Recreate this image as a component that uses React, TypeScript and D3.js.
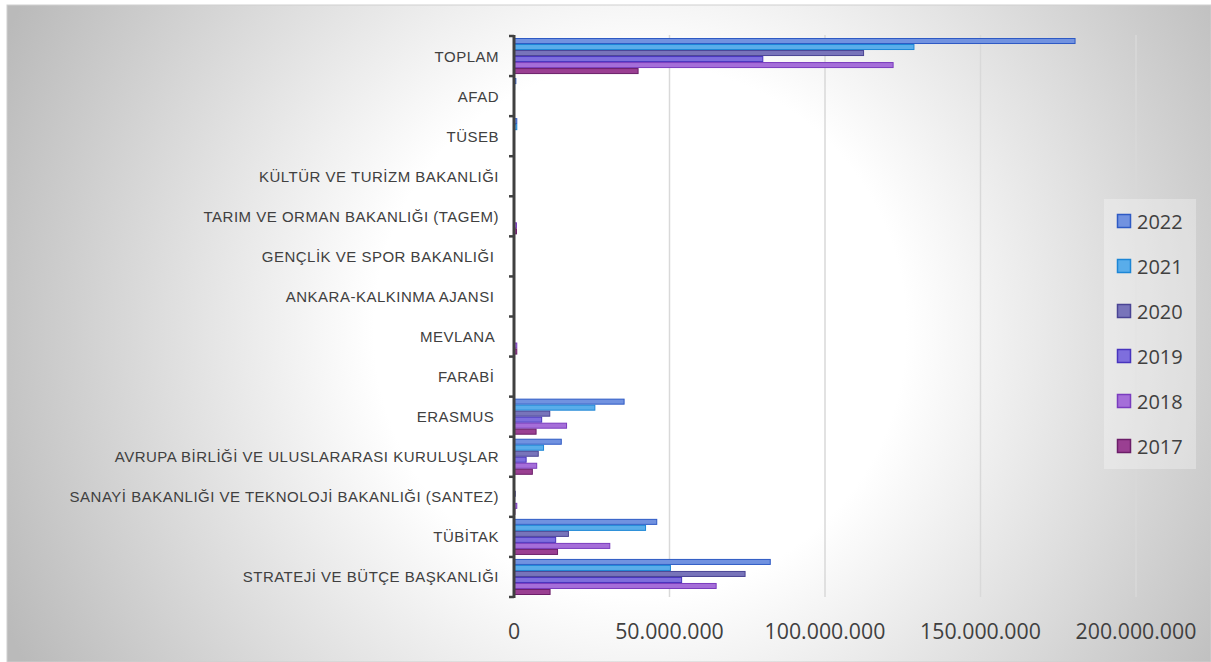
import React from "react";
import * as d3 from "d3";

const categories = [
  "TOPLAM",
  "AFAD",
  "TÜSEB",
  "KÜLTÜR VE TURİZM BAKANLIĞI",
  "TARIM VE ORMAN BAKANLIĞI (TAGEM)",
  "GENÇLİK VE SPOR BAKANLIĞI ",
  "ANKARA-KALKINMA AJANSI ",
  "MEVLANA ",
  "FARABİ ",
  "ERASMUS ",
  "AVRUPA BİRLİĞİ VE ULUSLARARASI KURULUŞLAR",
  "SANAYİ BAKANLIĞI VE TEKNOLOJİ BAKANLIĞI (SANTEZ)",
  "TÜBİTAK",
  "STRATEJİ VE BÜTÇE BAŞKANLIĞI",
];

const years = ["2022", "2021", "2020", "2019", "2018", "2017"];

// values in millions
const v2022 = [180.4, 0.6, 0.9, 0, 0.1, 0, 0, 0, 0, 35.4, 15.2, 0, 45.9, 82.4];
const v2021 = [128.6, 0.2, 0.9, 0, 0.1, 0, 0, 0, 0, 26.0, 9.5, 0, 42.3, 50.3];
const v2020 = [112.4, 0, 0, 0, 0.1, 0, 0, 0, 0, 11.5, 7.8, 0.4, 17.5, 74.3];
const v2019 = [80.0, 0, 0, 0, 0.1, 0, 0, 0, 0, 8.9, 3.9, 0.2, 13.4, 53.9];
const v2018 = [121.9, 0, 0, 0, 0.8, 0, 0, 0.9, 0, 16.9, 7.3, 0.9, 30.8, 65.0];
const v2017 = [39.9, 0, 0, 0, 0.8, 0, 0, 0.9, 0, 7.1, 5.9, 0.3, 14.0, 11.6];

const seriesValues = [v2022, v2021, v2020, v2019, v2018, v2017];

const xTicks = [0, 50, 100, 150, 200];
const xTickLabels = ["0", "50.000.000", "100.000.000", "150.000.000", "200.000.000"];

const fills = ["#7192E0", "#59ADEA", "#7874BA", "#7E6EDD", "#A56ED9", "#9A3F92"];
const strokes = ["#2E5AC4", "#1C86D6", "#4A4494", "#4834BE", "#7A3CBE", "#6C1E69"];

export default function App() {
  const W = 1211;
  const H = 662;
  const plotTop = 36;
  const plotBottom = 597;
  const x = d3.scaleLinear().domain([0, 200]).range([514, 1136]);
  const y = d3.scaleBand<string>().domain(categories).range([plotTop, plotBottom]).padding(0);
  const bw = y.bandwidth();
  const inner = d3
    .scaleBand<string>()
    .domain(years)
    .range([bw * 0.05, bw * 0.95])
    .padding(0);

  return (
    <svg
      width={W}
      height={H}
      style={{ position: "absolute", left: 0, top: 0, display: "block" }}
    >
      <defs>
        <radialGradient id="bg" gradientUnits="userSpaceOnUse" cx={640} cy={330} r={700}>
          <stop offset="0" stopColor="#ffffff" />
          <stop offset="0.38" stopColor="#ffffff" />
          <stop offset="1" stopColor="#bababa" />
        </radialGradient>
      </defs>
      <rect x={0} y={0} width={W} height={H} fill="#ffffff" />
      <rect x={7} y={5} width={W - 7} height={H - 5} fill="url(#bg)" stroke="#cfcfcf" strokeWidth={1} />

      {/* gridlines */}
      {xTicks.slice(1).map((t) => (
        <line
          key={"g" + t}
          x1={x(t)}
          x2={x(t)}
          y1={plotTop - 1}
          y2={plotBottom}
          stroke="#d9d9d9"
          strokeWidth={1.5}
        />
      ))}

      {/* bars */}
      {categories.map((c, ci) => (
        <g key={c} transform={`translate(0,${y(c)})`}>
          {years.map((yr, si) => {
            const v = seriesValues[si][ci];
            if (v <= 0) return null;
            const w = x(v) - x(0);
            return (
              <rect
                key={yr}
                x={x(0)}
                y={(inner(yr) as number) + 0.5}
                width={w}
                height={inner.bandwidth() - 1}
                fill={fills[si]}
                stroke={strokes[si]}
                strokeWidth={1}
              />
            );
          })}
        </g>
      ))}

      {/* axis line and ticks */}
      <line x1={x(0)} x2={x(0)} y1={plotTop - 1} y2={plotBottom + 1} stroke="#404040" strokeWidth={3} />
      {categories.concat([""]).map((c, i) => {
        const yy = plotTop + i * bw;
        return (
          <line key={"t" + i} x1={x(0) - 5} x2={x(0)} y1={yy} y2={yy} stroke="#404040" strokeWidth={2.5} />
        );
      })}

      {/* category labels */}
      {categories.map((c) => (
        <text
          key={"l" + c}
          x={499}
          y={(y(c) as number) + bw / 2}
          textAnchor="end"
          dominantBaseline="central"
          fontFamily="'Liberation Sans', Arial, sans-serif"
          fontSize={15}
          letterSpacing={0.5}
          fill="#404040"
          style={{ whiteSpace: "pre" }}
        >
          {c}
        </text>
      ))}

      {/* x tick labels */}
      {xTicks.map((t, i) => (
        <text
          key={"x" + t}
          x={x(t)}
          y={630}
          textAnchor="middle"
          dominantBaseline="central"
          fontFamily="'Open Sans', sans-serif"
          fontSize={21.3}
          fill="#404040"
        >
          {xTickLabels[i]}
        </text>
      ))}

      {/* legend */}
      <rect x={1104} y={199} width={92} height={270} fill="#ffffff" fillOpacity={0.3} />
      {years.map((yr, i) => {
        const cy = 221 + i * 45;
        return (
          <g key={"lg" + yr}>
            <rect x={1117.5} y={cy - 6.5} width={13} height={13} fill={fills[i]} stroke={strokes[i]} strokeWidth={1.5} />
            <text
              x={1137}
              y={cy}
              dominantBaseline="central"
              fontFamily="'Open Sans', sans-serif"
              fontSize={20}
              fill="#404040"
            >
              {yr}
            </text>
          </g>
        );
      })}
    </svg>
  );
}
